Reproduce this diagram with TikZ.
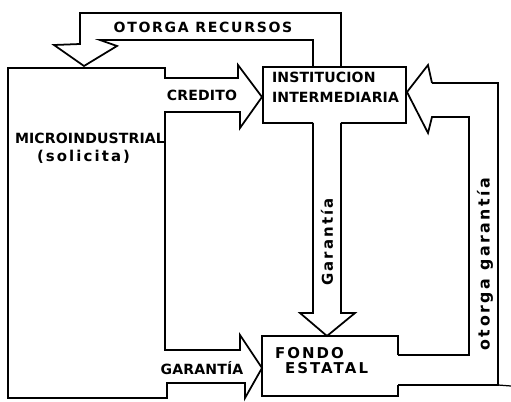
\documentclass[tikz,border=0pt]{standalone}
\usepackage{fontspec}
\newfontfamily\hand{DejaVu Sans Bold}[LetterSpace=1]
\usepackage{tikz}

\begin{document}
\begin{tikzpicture}[x=0.02cm, y=-0.02cm]
\tikzset{ outline/.style={line width=1pt, line join=miter},
          thin outline/.style={line width=0.7pt},
          lbl/.style={font={\hand\fontsize{8}{9}\selectfont}, inner sep=0pt, outer sep=0pt},
          wide lbl/.style={lbl, font={\hand\addfontfeature{LetterSpace=14}\fontsize{8.5}{9}\selectfont}} }

\useasboundingbox (0,0) rectangle (511,402);

% MICROINDUSTRIAL con sus dos flechas
\draw [outline] (8,68) -- (165,68) -- (165,78) -- (238,78) -- (238,65) -- (262,97)
  -- (240,128) -- (240,112) -- (165,112) -- (165,350) -- (240,350) -- (240,335)
  -- (262,368) -- (245,398) -- (245,383) -- (167,383) -- (167,398) -- (8,398) -- cycle;

% Institucion intermediaria y flecha hacia el fondo
\draw [outline] (313,123) -| (263,67) -| (406,123) -- (341,123);
\draw [outline] (313,123) -- (313,313) -- (300,313) -- (327,336) -- (355,313)
  -- (341,313) -- (341,123);

% otorga recursos
\draw [outline] (341,67) -- (341,13) -- (80,13) -- (80,44) -- (54,45) -- (84,66)
  -- (117,46) -- (100,40) -- (313,40) -- (313,67);

% Fondo estatal y flecha hacia la institucion
\draw [outline] (398,355) -- (398,336) -- (262,336) -- (262,396) -- (398,396) -- (398,385);
\draw [outline] (398,355) -- (469,355) -- (469,117) -- (432,117) -- (428,133) -- (407,92)
  -- (428,65) -- (432,83);
\draw [thin outline] (432,83) -- (498,83) -- (498,385) -- (398,385);
\draw [thin outline] (498,385) -- (511,386);

\node [lbl, font={\hand\addfontfeature{LetterSpace=12}\fontsize{8}{9}\selectfont}] (recursos) at (203,27) {OTORGA RECURSOS};
\node [lbl] (credito) at (202,95) {CREDITO};
\node [lbl, anchor=west] (inst) at (272,77) {INSTITUCION};
\node [lbl, anchor=west] (interm) at (272,97) {INTERMEDIARIA};
\node [lbl, anchor=west] (micro) at (15,138) {MICROINDUSTRIAL};
\node [wide lbl, anchor=west] (solicita) at (37,157) {(solicita)};
\node [lbl] (garantia) at (202,368) {GARANTÍA};
\node [wide lbl, anchor=west] (fondo) at (275,353) {FONDO};
\node [wide lbl, anchor=west] (estatal) at (285,368) {ESTATAL};
\node [wide lbl, rotate=90] (garantiav) at (327,242) {Garantía};
\node [wide lbl, rotate=90, font={\hand\addfontfeature{LetterSpace=16}\fontsize{9}{9}\selectfont}] (otorgag) at (485,264) {otorga garantía};

\end{tikzpicture}
\end{document}
